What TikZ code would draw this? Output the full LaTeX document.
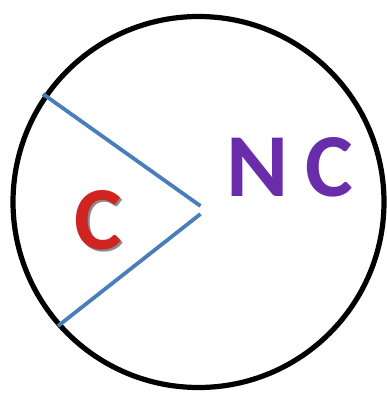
\documentclass[tikz,border=0pt]{standalone}
\usepackage{fontspec}
\setmainfont{Carlito}
\definecolor{ringblack}{HTML}{000000}
\definecolor{rayblue}{HTML}{4A7EBB}
\definecolor{cred}{HTML}{D02420}
\definecolor{ncpurple}{HTML}{6A2DAA}
\definecolor{shadowgray}{HTML}{8A8A8A}
\begin{document}
\begin{tikzpicture}[x=1pt,y=-1pt,
  ring/.style={draw=ringblack,line width=5.2pt},
  ray/.style={draw=rayblue,line width=3.8pt},
  biglabel/.style={inner sep=0pt,font=\fontsize{90}{90}\selectfont\bfseries}]
\useasboundingbox (0,0) rectangle (386,396);
\node[circle,ring,minimum size=371pt,inner sep=0pt] (ring) at (198.5,202) {};
\coordinate (ua) at (43,94);
\coordinate (ub) at (200.5,206);
\coordinate (la) at (200.5,214);
\coordinate (lb) at (58,326);
\draw[ray] (ua) -- (ub);
\draw[ray] (la) -- (lb);
\node[biglabel,text=cred] (c) at (98.5,221) {\rlap{\hspace{2pt}\raisebox{-2pt}{\color{shadowgray}C}}C};
\node[biglabel,text=ncpurple] (nc) at (289.5,167.5) {\scalebox{1.05}[1]{N}\hspace{17pt}C};
\end{tikzpicture}
\end{document}
